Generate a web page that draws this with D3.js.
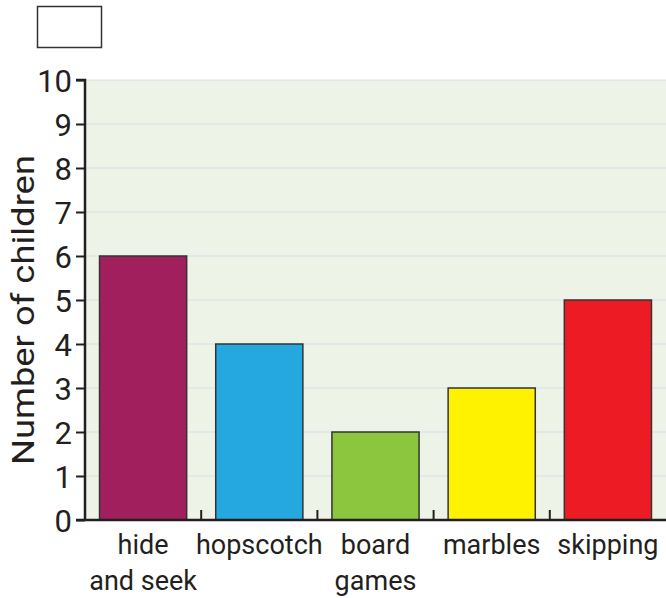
<!DOCTYPE html>
<html><head><meta charset="utf-8">
<script src="https://cdn.jsdelivr.net/npm/d3@7"></script>
<style>body{margin:0;background:#fff}svg{display:block}text{font-family:"Roboto","Noto Sans",sans-serif;fill:#231f20}</style>
</head><body>
<svg id="c" width="666" height="598"></svg>
<script>
const categories = [["hide","and seek"],["hopscotch"],["board","games"],["marbles"],["skipping"]];
const values = [6,4,2,3,5];
const colors = ["#a21f5e","#25a8e0","#8cc63f","#fff200","#ed1c24"];
const yTicks = [0,1,2,3,4,5,6,7,8,9,10];
const yLabel = "Number of children";

const svg = d3.select("#c");
const L = 85, R = 666, T = 80, B = 520;
const x = d3.scaleBand().domain(d3.range(categories.length)).range([L, R]).paddingInner(0.25).paddingOuter(0.125);
const y = d3.scaleLinear().domain([0,10]).range([B, T]);

// answer box
svg.append("rect").attr("x",37.5).attr("y",6.5).attr("width",64).attr("height",41).attr("fill","#fff").attr("stroke","#333").attr("stroke-width",1.5);

// plot background
svg.append("rect").attr("x",L).attr("y",T).attr("width",R-L).attr("height",B-T).attr("fill","#eef3e8");

// gridlines
svg.append("g").selectAll("line").data(yTicks.filter(d=>d>0)).join("line")
  .attr("x1",L).attr("x2",R).attr("y1",d=>y(d)).attr("y2",d=>y(d))
  .attr("stroke","#dcdde9").attr("stroke-width",1);

// bars
svg.append("g").selectAll("rect").data(values).join("rect")
  .attr("x",(d,i)=>x(i)).attr("width",x.bandwidth())
  .attr("y",d=>y(d)).attr("height",d=>B-y(d))
  .attr("fill",(d,i)=>colors[i]).attr("stroke","#333").attr("stroke-width",1.5);

// category separator ticks
const step = x.step();
svg.append("g").selectAll("line").data(d3.range(1,categories.length)).join("line")
  .attr("x1",i=>L+i*step).attr("x2",i=>L+i*step).attr("y1",B).attr("y2",B-10)
  .attr("stroke","#231f20").attr("stroke-width",2);

// y axis
const yAxis = d3.axisLeft(y).tickValues(yTicks).tickSize(9).tickPadding(4);
const gy = svg.append("g").attr("transform",`translate(${L},0)`).call(yAxis);
gy.select(".domain").attr("stroke","#231f20").attr("stroke-width",2.5).attr("d",`M-9,${T}H0V${B}`);
gy.selectAll(".tick line").attr("stroke","#231f20").attr("stroke-width",2);
gy.selectAll(".tick text").attr("font-size",31).attr("fill","#231f20").attr("dy","0.36em").style("font-family","Roboto, sans-serif");

// x axis line
svg.append("line").attr("x1",L-9).attr("x2",R).attr("y1",B).attr("y2",B).attr("stroke","#231f20").attr("stroke-width",2.5);

// category labels
const lab = svg.append("g").selectAll("text").data(categories).join("text")
  .attr("text-anchor","middle").attr("font-size",27)
  .attr("x",(d,i)=>x(i)+x.bandwidth()/2).attr("y",554);
lab.selectAll("tspan").data(d=>d).join("tspan")
  .attr("x",function(){return this.parentNode.getAttribute("x");})
  .attr("dy",(d,j)=>j===0?0:36).text(d=>d);

// y label
svg.append("text").attr("transform",`translate(34,310) rotate(-90)`)
  .attr("text-anchor","middle").attr("font-size",31)
  .attr("textLength",310).attr("lengthAdjust","spacingAndGlyphs").text(yLabel);
</script>
</body></html>
